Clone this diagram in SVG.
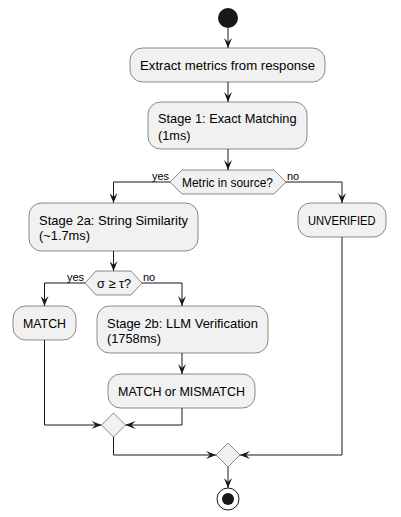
<svg xmlns="http://www.w3.org/2000/svg" width="401" height="517" viewBox="0 0 401 517">
<defs>
<marker id="arr" viewBox="0 0 10 8" refX="10" refY="4" markerWidth="10" markerHeight="8" markerUnits="userSpaceOnUse" orient="auto">
<path d="M0,0 L10,4 L0,8 L4,4 Z" fill="#181818"/>
</marker>
</defs>
<style>
.box{fill:#F1F1F1;stroke:#181818;stroke-width:0.5}
.t{font-family:"Liberation Sans",Arial,sans-serif;font-size:13px;fill:#000}
.l{font-family:"Liberation Sans",Arial,sans-serif;font-size:11px;fill:#000}
.c{fill:none;stroke:#181818;stroke-width:1}
</style>
<rect width="401" height="517" fill="#FFFFFF"/>
<g id="connectors">
<path class="c" d="M228,28 V48" marker-end="url(#arr)"/>
<path class="c" d="M228,82 V102" marker-end="url(#arr)"/>
<path class="c" d="M228,149 V170" marker-end="url(#arr)"/>
<path class="c" d="M170,182 H113.5 V203" marker-end="url(#arr)"/>
<path class="c" d="M286,182 H342 V203" marker-end="url(#arr)"/>
<path class="c" d="M113.5,251 V271" marker-end="url(#arr)"/>
<path class="c" d="M85,283 H44.5 V306" marker-end="url(#arr)"/>
<path class="c" d="M142,283 H182 V306" marker-end="url(#arr)"/>
<path class="c" d="M44.5,340 V425 H101.5" marker-end="url(#arr)"/>
<path class="c" d="M182,353 V374" marker-end="url(#arr)"/>
<path class="c" d="M182,408 V425 H125.5" marker-end="url(#arr)"/>
<path class="c" d="M113.5,437 V455 H216" marker-end="url(#arr)"/>
<path class="c" d="M342,237 V455 H240" marker-end="url(#arr)"/>
<path class="c" d="M228,467 V488" marker-end="url(#arr)"/>
<text class="l" x="152" y="180">yes</text>
<text class="l" x="287" y="180">no</text>
<text class="l" x="67" y="281">yes</text>
<text class="l" x="143" y="281">no</text>
</g>
<g id="start"><circle cx="228" cy="18" r="10" fill="#181818"/></g>
<g id="extract">
<rect class="box" x="130" y="48" width="195" height="34" rx="12.5"/>
<text class="t" x="140" y="69.5" textLength="175" lengthAdjust="spacingAndGlyphs">Extract metrics from response</text>
</g>
<g id="stage1">
<rect class="box" x="148" y="102" width="159" height="47" rx="12.5"/>
<text class="t" x="158" y="123" textLength="138.5" lengthAdjust="spacingAndGlyphs">Stage 1: Exact Matching</text>
<text class="t" x="158" y="139.5" textLength="32.5" lengthAdjust="spacingAndGlyphs">(1ms)</text>
</g>
<g id="decision1">
<polygon class="box" points="170,182 182,170 274,170 286,182 274,194 182,194"/>
<text class="t" x="182" y="186.5" textLength="91" lengthAdjust="spacingAndGlyphs">Metric in source?</text>
</g>
<g id="stage2a">
<rect class="box" x="29" y="203" width="169" height="48" rx="12.5"/>
<text class="t" x="39" y="224.5" textLength="149" lengthAdjust="spacingAndGlyphs">Stage 2a: String Similarity</text>
<text class="t" x="39" y="239.5" textLength="51" lengthAdjust="spacingAndGlyphs">(~1.7ms)</text>
</g>
<g id="unverified">
<rect class="box" x="298" y="203" width="88" height="34" rx="12.5"/>
<text class="t" x="308" y="224.5" textLength="67.5" lengthAdjust="spacingAndGlyphs">UNVERIFIED</text>
</g>
<g id="decision2">
<polygon class="box" points="85,283 96,271 131,271 142,283 131,295 96,295"/>
<text class="t" x="97" y="287.5" textLength="34" lengthAdjust="spacingAndGlyphs">σ ≥ τ?</text>
</g>
<g id="match">
<rect class="box" x="13" y="306" width="63" height="34" rx="12.5"/>
<text class="t" x="23" y="327.5" textLength="43" lengthAdjust="spacingAndGlyphs">MATCH</text>
</g>
<g id="stage2b">
<rect class="box" x="97" y="306" width="171" height="47" rx="12.5"/>
<text class="t" x="107" y="327.5" textLength="151" lengthAdjust="spacingAndGlyphs">Stage 2b: LLM Verification</text>
<text class="t" x="107" y="342.5" textLength="54" lengthAdjust="spacingAndGlyphs">(1758ms)</text>
</g>
<g id="matchmismatch">
<rect class="box" x="108" y="374" width="147" height="34" rx="12.5"/>
<text class="t" x="118" y="395.5" textLength="127" lengthAdjust="spacingAndGlyphs">MATCH or MISMATCH</text>
</g>
<g id="merge1"><polygon class="box" points="113.5,413 125.5,425 113.5,437 101.5,425"/></g>
<g id="merge2"><polygon class="box" points="228,443 240,455 228,467 216,455"/></g>
<g id="end">
<circle cx="228" cy="499" r="11" fill="none" stroke="#181818" stroke-width="1"/>
<circle cx="228" cy="499" r="6" fill="#181818"/>
</g>
</svg>
